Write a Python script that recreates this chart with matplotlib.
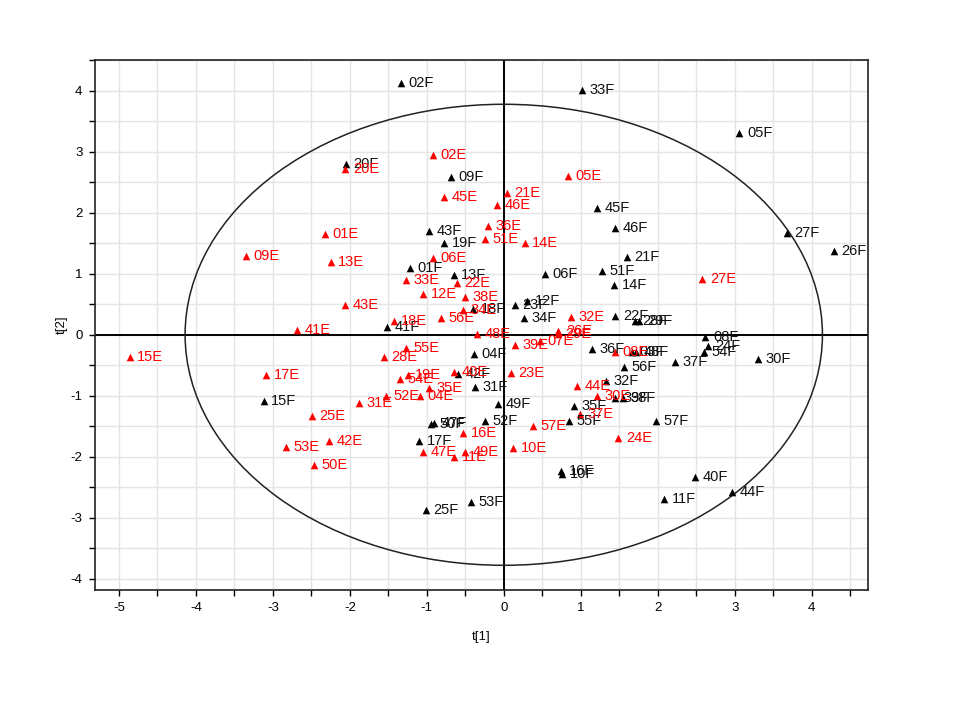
import matplotlib
matplotlib.use("Agg")
import matplotlib.pyplot as plt
from matplotlib.patches import Ellipse
from matplotlib.ticker import MultipleLocator
from matplotlib import font_manager

plt.rcParams["axes.unicode_minus"] = False

f_labels = ["02F","33F","05F","20F","09F","43F","45F","46F","27F","26F","21F","51F","14F","22F",
            "28F","29F","08F","24F","54F","30F","37F","36F","03F","48F","56F","32F","39F","38F",
            "35F","55F","57F","40F","44F","11F","16F","10F","53F","25F","17F","50F","47F","52F",
            "49F","31F","42F","04F","41F","18F","34F","23F","12F","06F","13F","01F","19F","15F"]
f_x = [-1.34,1.01,3.06,-2.05,-0.69,-0.97,1.21,1.45,3.68,4.29,1.60,1.27,1.43,1.45,
       1.70,1.76,2.62,2.65,2.60,3.30,2.22,1.14,1.66,1.72,1.56,1.33,1.45,1.55,
       0.91,0.85,1.98,2.48,2.96,2.08,0.75,0.76,-0.43,-1.01,-1.10,-0.94,-0.91,-0.25,
       -0.08,-0.38,-0.60,-0.39,-1.52,-0.40,0.26,0.14,0.30,0.53,-0.65,-1.22,-0.77,-3.12]
f_y = [4.13,4.02,3.31,2.80,2.59,1.70,2.08,1.75,1.67,1.38,1.28,1.05,0.82,0.30,
       0.23,0.23,-0.03,-0.19,-0.28,-0.39,-0.44,-0.23,-0.29,-0.29,-0.53,-0.75,-1.03,-1.03,
       -1.16,-1.42,-1.42,-2.33,-2.57,-2.69,-2.23,-2.28,-2.74,-2.87,-1.75,-1.46,-1.44,-1.41,
       -1.13,-0.85,-0.64,-0.31,0.13,0.43,0.28,0.49,0.56,1.00,0.98,1.10,1.51,-1.08]

e_labels = ["02E","20E","05E","45E","21E","46E","36E","51E","14E","01E","09E","13E","43E","41E",
            "15E","17E","06E","33E","22E","12E","38E","34E","56E","18E","48E","55E","28E","19E",
            "54E","40E","35E","52E","04E","31E","23E","39E","07E","26E","29E","32E","08E","44E",
            "30E","37E","57E","24E","10E","16E","47E","11E","49E","25E","42E","53E","50E","27E"]
e_x = [-0.92,-2.06,0.83,-0.78,0.04,-0.09,-0.21,-0.25,0.27,-2.32,-3.35,-2.25,-2.06,-2.69,
       -4.86,-3.09,-0.92,-1.27,-0.61,-1.05,-0.51,-0.53,-0.82,-1.43,-0.35,-1.27,-1.56,-1.25,
       -1.35,-0.65,-0.97,-1.53,-1.09,-1.88,0.09,0.15,0.47,0.71,0.70,0.87,1.44,0.95,
       1.21,0.99,0.38,1.49,0.12,-0.53,-1.05,-0.64,-0.51,-2.49,-2.27,-2.83,-2.47,2.58]
e_y = [2.95,2.72,2.61,2.26,2.33,2.13,1.79,1.57,1.51,1.66,1.29,1.20,0.49,0.08,
       -0.36,-0.66,1.26,0.90,0.85,0.67,0.62,0.41,0.28,0.23,0.02,-0.21,-0.36,-0.66,
       -0.72,-0.61,-0.87,-1.01,-1.01,-1.12,-0.62,-0.16,-0.11,0.07,0.01,0.29,-0.28,-0.84,
       -1.01,-1.30,-1.50,-1.70,-1.85,-1.61,-1.92,-2.00,-1.93,-1.34,-1.74,-1.84,-2.13,0.92]

ellipse_a = 4.14
ellipse_b = 3.78

available = {f.name for f in font_manager.fontManager.ttflist}
label_font = "Liberation Sans" if "Liberation Sans" in available else "DejaVu Sans"
tick_font = "Liberation Sans Narrow" if "Liberation Sans Narrow" in available else label_font

fig = plt.figure(figsize=(9.6, 7.2), dpi=100)
ax = fig.add_axes([0.099, 0.181, 0.805, 0.736])

ax.set_xlim(-5.31, 4.73)
ax.set_ylim(-4.18, 4.51)

ax.xaxis.set_major_locator(MultipleLocator(1))
ax.xaxis.set_minor_locator(MultipleLocator(0.5))
ax.yaxis.set_major_locator(MultipleLocator(1))
ax.yaxis.set_minor_locator(MultipleLocator(0.5))
ax.grid(True, which="both", color="#e4e4e4", linewidth=1.0, zorder=0)
ax.set_axisbelow(True)
ax.tick_params(which="both", direction="out", length=4, width=1, color="black",
               labelsize=9.5, pad=5)
for lbl in ax.get_xticklabels() + ax.get_yticklabels():
    lbl.set_fontfamily(tick_font)
for s in ax.spines.values():
    s.set_linewidth(1.2)
    s.set_color("#222222")

ax.axhline(0, color="black", linewidth=1.4, zorder=1)
ax.axvline(0, color="black", linewidth=1.4, zorder=1)
ax.add_patch(Ellipse((0, 0), 2 * ellipse_a, 2 * ellipse_b, fill=False,
                     edgecolor="#222222", linewidth=1.1, zorder=1))

ax.scatter(f_x, f_y, marker="^", s=30, color="black", zorder=3, linewidths=0)
ax.scatter(e_x, e_y, marker="^", s=30, color="#ff0000", zorder=3, linewidths=0)

for lab, x, y in zip(f_labels, f_x, f_y):
    ax.annotate(lab, (x, y), xytext=(5.5, 0), textcoords="offset points",
                fontsize=10.5, family=label_font, color="#111111",
                va="center", ha="left", zorder=4)
for lab, x, y in zip(e_labels, e_x, e_y):
    ax.annotate(lab, (x, y), xytext=(5.5, 0), textcoords="offset points",
                fontsize=10.5, family=label_font, color="#ff0000",
                va="center", ha="left", zorder=4)

ax.set_xlabel("t[1]", fontsize=9.5, family=tick_font, labelpad=12)
ax.set_ylabel("t[2]", fontsize=9.5, family=tick_font, labelpad=2)

fig.savefig("out.png", dpi=100, facecolor="white")
